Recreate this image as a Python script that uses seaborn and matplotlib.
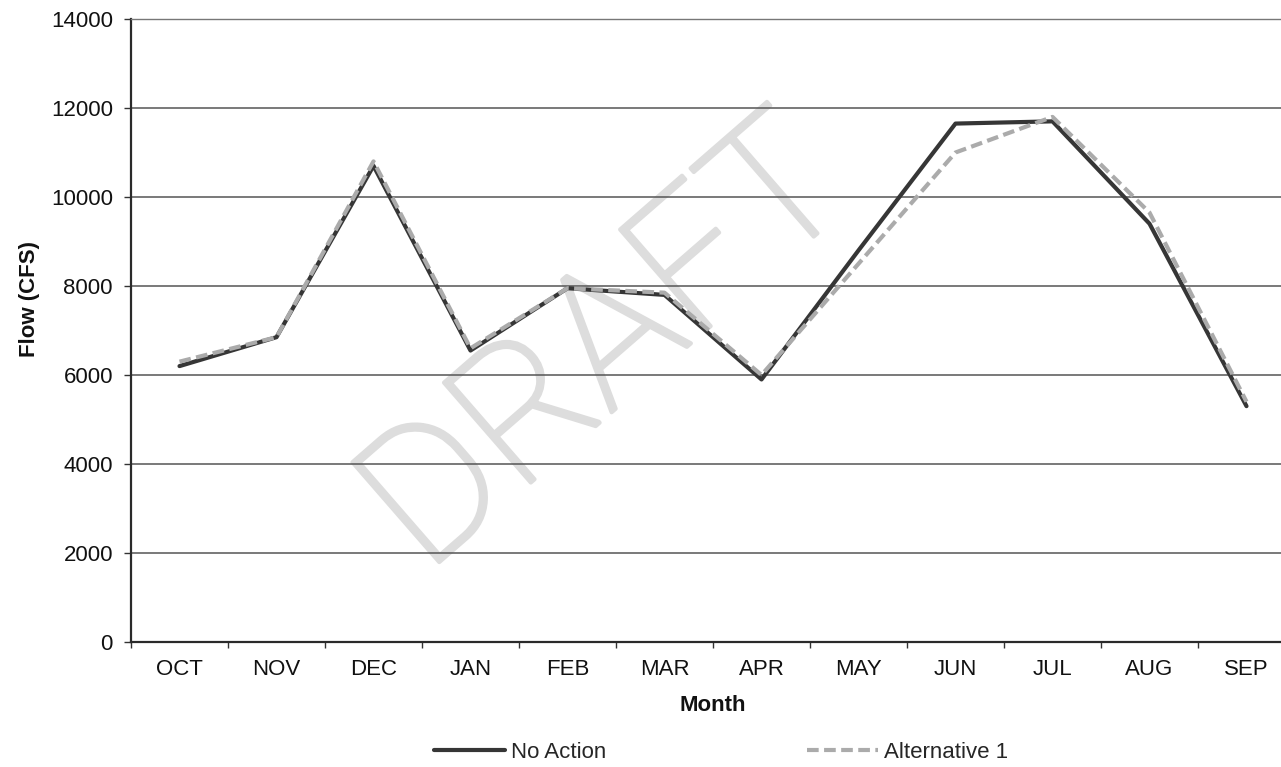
import numpy as np
import pandas as pd
import matplotlib
matplotlib.use("Agg")
import matplotlib.pyplot as plt
import matplotlib.patheffects as pe
import seaborn as sns
from matplotlib.ticker import FixedLocator, MultipleLocator

# Monthly flow values (CFS)
months = ["OCT", "NOV", "DEC", "JAN", "FEB", "MAR", "APR", "MAY", "JUN", "JUL", "AUG", "SEP"]
no_action = [6200, 6850, 10700, 6550, 7950, 7800, 5900, 8800, 11650, 11700, 9400, 5300]
alternative_1 = [6300, 6850, 10800, 6600, 7950, 7850, 6000, 8500, 11000, 11800, 9650, 5400]
series_names = ["No Action", "Alternative 1"]

sns.set_theme(style="white")
plt.rcParams["font.family"] = ["Liberation Sans", "DejaVu Sans"]

df = pd.DataFrame({
    "Month": months * 2,
    "Flow": no_action + alternative_1,
    "Scenario": [series_names[0]] * len(months) + [series_names[1]] * len(months),
})
df["x"] = list(range(len(months))) * 2

fig = plt.figure(figsize=(12.81, 7.67), dpi=100)
ax = fig.add_axes([131 / 1281, 125 / 767, 1164 / 1281, 623 / 767])

# faint watermark behind the data
wm_color = "#dddddd"
ax.text(0.41, 0.472, "DRAFT", transform=ax.transAxes, rotation=41,
        fontsize=134, color=wm_color, ha="center", va="center",
        family=["Roboto", "Liberation Sans"], fontweight="light",
        rotation_mode="anchor", zorder=0,
        path_effects=[pe.withStroke(linewidth=3, foreground=wm_color)])

sns.lineplot(data=df, x="x", y="Flow", hue="Scenario", style="Scenario",
             hue_order=series_names, style_order=series_names,
             palette={"No Action": "#363636", "Alternative 1": "#ababab"},
             dashes={"No Action": "", "Alternative 1": (2.8, 1.3)},
             linewidth=3.0, sort=False, ax=ax, legend=True, zorder=3)

ax.set_ylim(0, 14000)
ax.set_xlim(-0.5, 11.5)
ax.yaxis.set_major_locator(MultipleLocator(2000))
ax.set_xticks(range(len(months)))
ax.set_xticklabels(months)
ax.xaxis.set_minor_locator(FixedLocator(np.arange(-0.5, 12, 1)))

ax.grid(axis="y", color="#555555", linewidth=1.1)
ax.set_axisbelow(True)
ax.spines["right"].set_visible(False)
ax.spines["top"].set_color("#777777")
ax.spines["top"].set_linewidth(1.0)
ax.spines["top"].set_linestyle((0, (1, 1)))
for side in ["left", "bottom"]:
    ax.spines[side].set_color("#2a2a2a")
    ax.spines[side].set_linewidth(1.6)

ax.tick_params(axis="y", which="major", left=True, length=5, width=1, color="#333333",
               labelsize=16, pad=8, labelcolor="#111111")
ax.tick_params(axis="x", which="major", bottom=False, length=0, labelsize=16,
               pad=12, labelcolor="#111111")
ax.tick_params(axis="x", which="minor", bottom=True, length=4, width=1, color="#333333")

ax.set_xlabel("Month", fontsize=16, fontweight="bold", labelpad=11, color="#111111")
ax.set_ylabel("Flow (CFS)", fontsize=16, fontweight="bold", color="#111111")
ax.yaxis.set_label_coords(-0.078, 0.55)

handles, labels = ax.get_legend_handles_labels()
ax.legend(handles, labels, loc="center", bbox_to_anchor=(721 / 1281, 15 / 767),
          bbox_transform=fig.transFigure, ncol=2, frameon=False, fontsize=16,
          handlelength=3.2, handletextpad=0.25, columnspacing=9.05)

fig.savefig("out.png", dpi=100, facecolor="white")
